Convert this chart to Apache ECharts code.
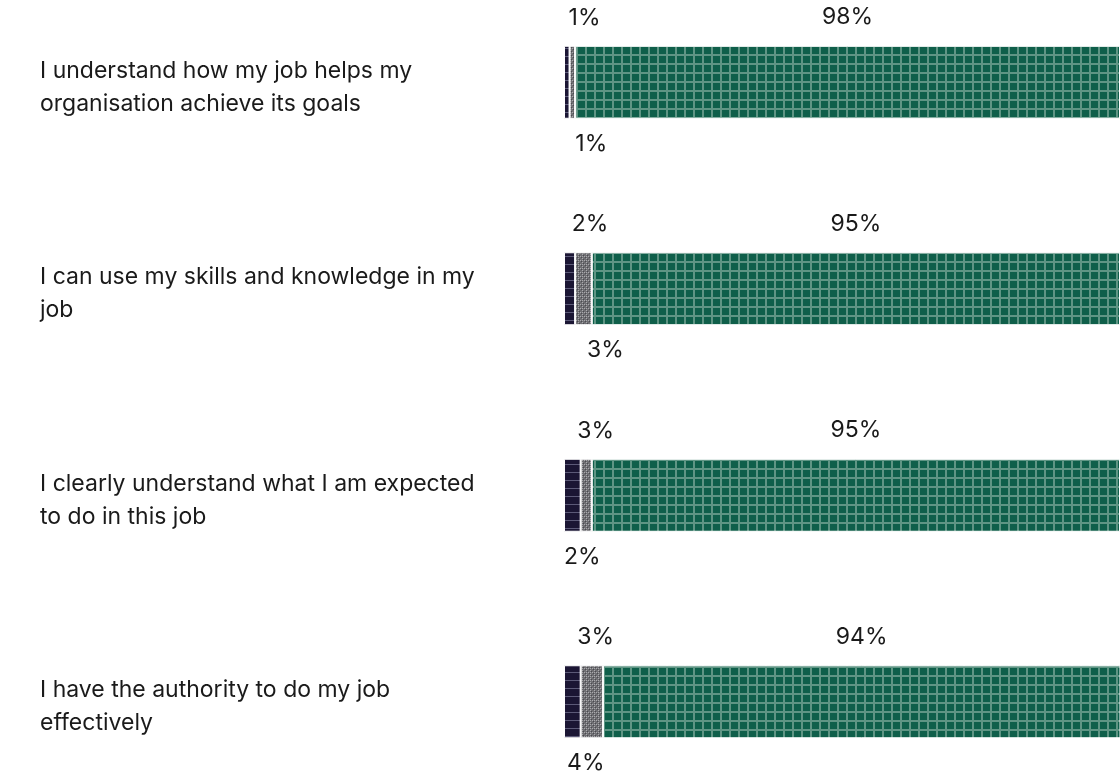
<!DOCTYPE html>
<html>
<head>
<meta charset="utf-8">
<script src="https://cdn.jsdelivr.net/npm/echarts@6/dist/echarts.min.js"></script>
<style>html,body{margin:0;padding:0;background:#fff;}#c{width:1120px;height:776px;}</style>
</head>
<body>
<div id="c"></div>
<script>
const categories = [
  'I understand how my job helps my\norganisation achieve its goals',
  'I can use my skills and knowledge in my\njob',
  'I clearly understand what I am expected\nto do in this job',
  'I have the authority to do my job\neffectively'
];
const negative = [1, 2, 3, 3];
const neutral = [1, 3, 2, 4];
const positive = [98, 95, 95, 94];
const neutralLabelNudge = [19, 22, -4, -6];

function makePattern(w, h, draw) {
  const cv = document.createElement('canvas');
  cv.width = w; cv.height = h;
  const ctx = cv.getContext('2d');
  draw(ctx, w, h);
  return { image: cv, repeat: 'repeat' };
}
const greenPat = makePattern(9, 9, (ctx, w, h) => {
  ctx.fillStyle = '#0f5f4a'; ctx.fillRect(0, 0, w, h);
  ctx.fillStyle = '#5f9584';
  ctx.fillRect(0, 0, 2, h);
  ctx.fillRect(0, 0, w, 2);
});
const navyPat = makePattern(8, 8, (ctx, w, h) => {
  ctx.fillStyle = '#1b1634'; ctx.fillRect(0, 0, w, h);
  ctx.fillStyle = '#5c5a78';
  ctx.fillRect(0, 0, w, 1);
});
const greyPat = makePattern(4, 4, (ctx, w, h) => {
  ctx.fillStyle = '#6e6e72'; ctx.fillRect(0, 0, w, h);
  ctx.fillStyle = '#a9a9ad';
  ctx.fillRect(0, 0, 1, 1); ctx.fillRect(2, 2, 1, 1); ctx.fillRect(2, 0, 1, 1);
  ctx.fillStyle = '#4a4a50';
  ctx.fillRect(1, 1, 1, 1); ctx.fillRect(3, 3, 1, 1);
});

const font = 'Inter';
const pctSize = 23;
const chart = echarts.init(document.getElementById('c'));
chart.setOption({
  animation: false,
  grid: { left: 564, right: 0, top: -21, height: 826, containLabel: false, outerBoundsMode: 'none' },
  xAxis: { type: 'value', min: 0, max: 100, show: false },
  yAxis: {
    type: 'category', data: categories, inverse: true,
    axisLine: { show: false }, axisTick: { show: false },
    axisLabel: {
      align: 'left', margin: 524,
      fontFamily: font, fontSize: 23, color: '#1a1a1a', lineHeight: 33,
      formatter: v => '{s| }\n' + v,
      rich: { s: { fontSize: 8, lineHeight: 10 } }
    }
  },
  series: [
    {
      name: 'Negative', type: 'bar', stack: 't', barWidth: 73, data: negative,
      itemStyle: { color: navyPat, borderColor: '#fff', borderWidth: 1 },
      label: {
        show: true, position: ['100%', 0], align: 'center', verticalAlign: 'middle',
        offset: [15, -28], formatter: '{c}%', fontFamily: font, fontSize: pctSize, color: '#1a1a1a'
      }
    },
    {
      name: 'Neutral', type: 'bar', stack: 't', data: neutral.map((v, i) => ({
        value: v,
        label: { offset: [neutralLabelNudge[i], 25] }
      })),
      itemStyle: { color: greyPat, borderColor: '#fff', borderWidth: 1 },
      label: {
        show: true, position: ['50%', '100%'], align: 'center', verticalAlign: 'middle',
        formatter: '{c}%', fontFamily: font, fontSize: pctSize, color: '#1a1a1a'
      }
    },
    {
      name: 'Positive', type: 'bar', stack: 't', data: positive,
      itemStyle: { color: greenPat, borderColor: '#fff', borderWidth: 1 },
      label: {
        show: true, position: 'top', distance: 17,
        formatter: '{c}%', fontFamily: font, fontSize: pctSize, color: '#1a1a1a'
      }
    }
  ]
});
</script>
</body>
</html>
